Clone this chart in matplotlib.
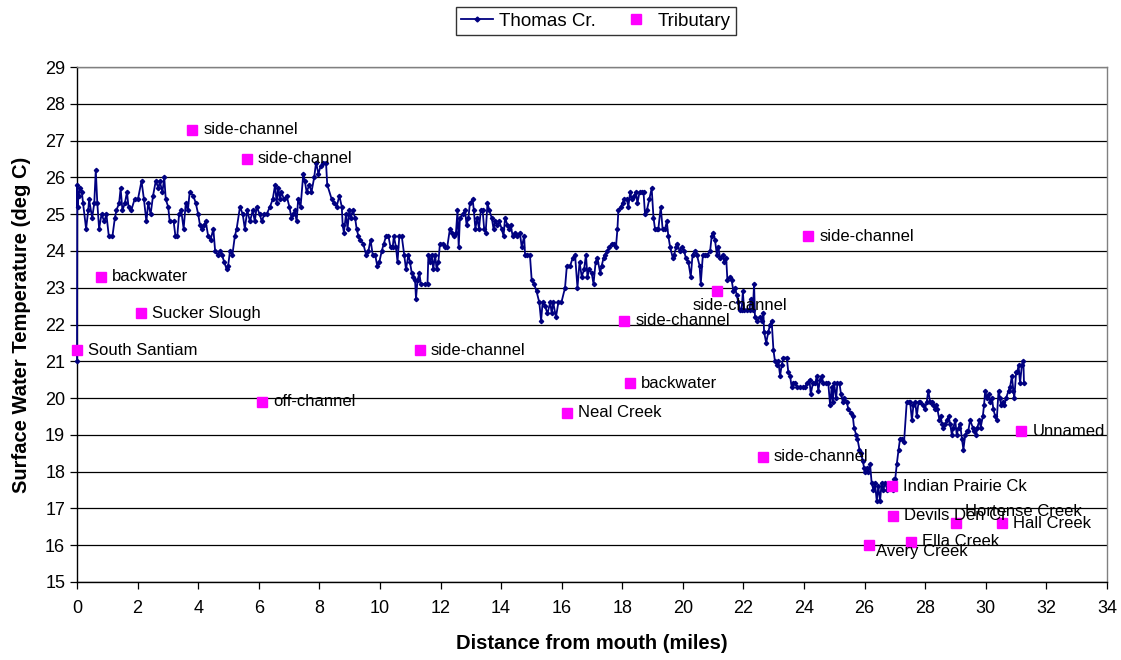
import matplotlib
matplotlib.use("Agg")
import matplotlib.pyplot as plt
from matplotlib.lines import Line2D

plt.rcParams['font.family'] = ['Liberation Sans', 'DejaVu Sans']

# Thomas Cr. longitudinal profile: distance (miles) and temperature (deg C)
thomas_miles = [
    0.00, 0.01, 0.02, 0.05, 0.10, 0.16, 0.20, 0.30, 0.37, 0.40, 0.50, 0.57, 0.62, 0.67, 0.73, 0.81,
    0.90, 0.97, 1.05, 1.17, 1.25, 1.30, 1.39, 1.44, 1.50, 1.58, 1.65, 1.70, 1.79, 1.90, 2.01, 2.13,
    2.21, 2.29, 2.35, 2.43, 2.51, 2.60, 2.69, 2.73, 2.82, 2.88, 2.93, 3.01, 3.06, 3.19, 3.25, 3.31,
    3.37, 3.44, 3.52, 3.59, 3.66, 3.72, 3.84, 3.92, 4.00, 4.06, 4.11, 4.19, 4.25, 4.33, 4.41, 4.50,
    4.56, 4.64, 4.72, 4.78, 4.86, 4.94, 4.99, 5.05, 5.13, 5.21, 5.27, 5.38, 5.47, 5.54, 5.62, 5.71,
    5.80, 5.87, 5.93, 6.03, 6.10, 6.18, 6.26, 6.37, 6.46, 6.54, 6.59, 6.64, 6.70, 6.75, 6.83, 6.92,
    7.01, 7.08, 7.14, 7.19, 7.25, 7.30, 7.38, 7.47, 7.52, 7.58, 7.67, 7.74, 7.83, 7.89, 7.97, 8.04,
    8.13, 8.22, 8.26,
    8.41, 8.48, 8.57, 8.66, 8.74, 8.77, 8.81, 8.88, 8.93, 8.99, 9.04, 9.10, 9.18, 9.23, 9.29, 9.34,
    9.45, 9.54, 9.62, 9.69, 9.76, 9.84, 9.91, 9.98, 10.06, 10.13, 10.20, 10.28, 10.35, 10.42, 10.46,
    10.53, 10.58, 10.64, 10.72, 10.80, 10.86, 10.94, 10.99, 11.05, 11.10, 11.16, 11.19, 11.24, 11.30,
    11.35, 11.49, 11.57, 11.60, 11.65, 11.71, 11.76, 11.82, 11.87, 11.93, 11.98, 12.07, 12.15, 12.22,
    12.31, 12.37, 12.44, 12.51, 12.56, 12.60, 12.64, 12.73, 12.81, 12.86, 12.92, 12.97, 13.06, 13.10,
    13.15, 13.21, 13.27, 13.33, 13.39, 13.44, 13.49, 13.55, 13.61, 13.69, 13.75, 13.80, 13.88, 13.94,
    14.02, 14.08, 14.13, 14.21, 14.27, 14.32, 14.38, 14.46, 14.54, 14.62, 14.68, 14.76, 14.79, 14.87,
    14.95, 15.01, 15.09, 15.17, 15.26, 15.32, 15.37, 15.45, 15.53, 15.62, 15.67, 15.72, 15.81, 15.89,
    15.99, 16.11, 16.17, 16.28, 16.36, 16.44, 16.52, 16.59, 16.66, 16.74, 16.80, 16.85, 16.91, 16.99,
    17.05, 17.12, 17.18, 17.27,
    17.32, 17.38, 17.43, 17.51, 17.57, 17.65, 17.73, 17.79, 17.84, 17.87, 17.95, 18.01, 18.06, 18.15,
    18.20, 18.26, 18.31, 18.39, 18.45, 18.50, 18.57, 18.64, 18.70, 18.75, 18.81, 18.89, 18.97, 19.03,
    19.08, 19.14, 19.19, 19.27, 19.33, 19.41, 19.47, 19.52, 19.58, 19.67, 19.71, 19.78, 19.82, 19.89,
    19.96, 20.04, 20.10, 20.18, 20.26, 20.32, 20.40, 20.46, 20.55, 20.59, 20.66, 20.73, 20.81, 20.90,
    20.95, 21.01, 21.06, 21.12, 21.17, 21.23, 21.32, 21.36, 21.43, 21.47, 21.56, 21.61, 21.67, 21.72,
    21.78, 21.83, 21.89, 21.94, 21.98, 22.02, 22.11, 22.20, 22.24, 22.31, 22.35, 22.38, 22.44, 22.53,
    22.60, 22.66, 22.68, 22.75, 22.82, 22.88, 22.93, 22.99, 23.04, 23.10, 23.15, 23.21, 23.26, 23.32,
    23.43,
    23.48, 23.54, 23.59, 23.65, 23.70, 23.78, 23.87, 23.96, 24.03, 24.09, 24.18, 24.22, 24.29, 24.37,
    24.42, 24.47, 24.53, 24.58, 24.64, 24.73, 24.80, 24.86, 24.91, 24.95, 24.99, 25.06, 25.10, 25.17,
    25.22, 25.28, 25.32, 25.41, 25.46, 25.54, 25.61, 25.65, 25.72, 25.76, 25.83, 25.87, 25.94, 25.98,
    26.01, 26.07, 26.12, 26.18, 26.23, 26.29, 26.34, 26.40, 26.45, 26.51, 26.56, 26.62, 26.67, 26.75,
    26.84, 26.93, 26.97, 27.01, 27.06, 27.12, 27.17, 27.23, 27.30, 27.39, 27.45, 27.50, 27.56, 27.61,
    27.67, 27.72, 27.78, 27.83, 27.92, 27.99, 28.05, 28.10, 28.16, 28.21, 28.27, 28.32, 28.36, 28.40,
    28.47, 28.51, 28.55, 28.60, 28.66, 28.71, 28.77, 28.82, 28.88, 28.93, 28.99, 29.04, 29.10, 29.15,
    29.21, 29.26, 29.32, 29.39, 29.42, 29.48, 29.57, 29.61, 29.68, 29.72, 29.79, 29.83, 29.90, 29.94,
    29.98, 30.03, 30.09, 30.14, 30.20, 30.25, 30.31, 30.36, 30.42, 30.47, 30.50, 30.56, 30.60, 30.67,
    30.75, 30.80, 30.86, 30.91, 30.94, 31.00, 31.04, 31.08, 31.13, 31.19, 31.24, 31.26,
]
thomas_temp = [
    21.0, 25.8, 25.2, 25.5, 25.7, 25.6, 25.3, 24.6, 25.1, 25.4, 24.9, 25.3, 26.2, 25.3, 24.6, 25.0,
    24.8, 25.0, 24.4, 24.4, 24.9, 25.1, 25.3, 25.7, 25.1, 25.3, 25.6, 25.2, 25.1, 25.4, 25.4, 25.9,
    25.4, 24.8, 25.3, 25.0, 25.5, 25.9, 25.7, 25.9, 25.6, 26.0, 25.4, 25.2, 24.8, 24.8, 24.4, 24.4,
    25.0, 25.1, 24.6, 25.3, 25.1, 25.6, 25.5, 25.3, 25.0, 24.7, 24.6, 24.7, 24.8, 24.4, 24.3, 24.6,
    24.0, 23.9, 24.0, 23.9, 23.7, 23.5, 23.6, 24.0, 23.9, 24.4, 24.6, 25.2, 25.0, 24.6, 25.1, 24.8,
    25.1, 24.8, 25.2, 25.0, 24.8, 25.0, 25.0, 25.2, 25.4, 25.8, 25.3, 25.7, 25.4, 25.6, 25.4, 25.5,
    25.2, 24.9, 25.0, 25.1, 24.8, 25.4, 25.2, 26.1, 25.9, 25.6, 25.8, 25.6, 26.0, 26.4, 26.1, 26.3,
    26.4, 26.4, 25.8,
    25.4, 25.3, 25.2, 25.5, 25.2, 24.7, 24.5, 25.0, 24.6, 25.1, 24.9, 25.1, 24.9, 24.6, 24.4, 24.3,
    24.2, 23.9, 24.0, 24.3, 23.9, 23.9, 23.6, 23.7, 24.0, 24.2, 24.4, 24.4, 24.1, 24.1, 24.4,
    24.1, 23.7, 24.4, 24.4, 23.9, 23.5, 23.9, 23.7, 23.4, 23.3, 23.2, 22.7, 23.2, 23.4,
    23.1, 23.1, 23.1, 23.9, 23.7, 23.9, 23.5, 23.9, 23.5, 23.7, 24.2, 24.2, 24.1, 24.1,
    24.6, 24.5, 24.4, 24.5, 25.1, 24.1, 24.9, 25.0, 25.1, 24.7, 24.9, 25.3, 25.4, 25.1,
    24.6, 24.9, 24.6, 25.1, 25.1, 24.6, 24.5, 25.3, 25.1, 24.9, 24.6, 24.8, 24.7, 24.8,
    24.6, 24.4, 24.9, 24.7, 24.6, 24.7, 24.4, 24.5, 24.4, 24.5, 24.1, 24.4, 23.9, 23.9,
    23.9, 23.2, 23.1, 22.9, 22.6, 22.1, 22.6, 22.5, 22.3, 22.6, 22.3, 22.6, 22.2, 22.6,
    22.6, 23.0, 23.6, 23.6, 23.8, 23.9, 23.0, 23.7, 23.3, 23.5, 23.9, 23.3, 23.5, 23.4,
    23.1, 23.7, 23.8, 23.4,
    23.6, 23.8, 23.9, 24.0, 24.1, 24.2, 24.2, 24.1, 24.6, 25.1, 25.2, 25.3, 25.4, 25.4,
    25.2, 25.6, 25.4, 25.5, 25.6, 25.3, 25.6, 25.6, 25.6, 25.0, 25.1, 25.4, 25.7, 24.9,
    24.6, 24.6, 24.6, 25.2, 24.6, 24.6, 24.8, 24.4, 24.1, 23.8, 23.9, 24.1, 24.2, 24.0,
    24.1, 24.0, 23.8, 23.7, 23.3, 23.9, 24.0, 23.9, 23.6, 23.1, 23.9, 23.9, 23.9, 24.0,
    24.4, 24.5, 24.3, 23.9, 24.1, 23.8, 23.9, 23.7, 23.8, 23.2, 23.3, 23.2, 22.9, 23.0,
    22.8, 22.6, 22.4, 22.4, 22.9, 22.4, 22.4, 22.4, 22.7, 22.4, 23.1, 22.2, 22.1, 22.2,
    22.1, 22.3, 21.8, 21.5, 21.8, 22.0, 22.1, 21.3, 21.0, 20.9, 21.0, 20.6, 20.9, 21.1,
    21.1,
    20.7, 20.6, 20.3, 20.4, 20.4, 20.3, 20.3, 20.3, 20.3, 20.4, 20.5, 20.1, 20.4, 20.4,
    20.6, 20.2, 20.5, 20.6, 20.4, 20.4, 20.4, 19.8, 20.3, 19.9, 20.4, 20.0, 20.4, 20.4,
    20.1, 19.9, 20.0, 19.9, 19.7, 19.6, 19.5, 19.2, 19.0, 18.9, 18.6, 18.5, 18.3, 18.1,
    18.0, 18.1, 18.0, 18.2, 17.7, 17.5, 17.7, 17.2, 17.6, 17.2, 17.7, 17.5, 17.7, 17.5,
    17.6, 17.5, 17.8, 17.8, 18.2, 18.6, 18.9, 18.9, 18.8, 19.9, 19.9, 19.9, 19.4, 19.8,
    19.9, 19.5, 19.9, 19.9, 19.8, 19.7, 19.9, 20.2, 19.9, 19.9, 19.8, 19.7, 19.8, 19.7,
    19.4, 19.5, 19.3, 19.2, 19.3, 19.4, 19.5, 19.3, 19.0, 19.2, 19.4, 19.0, 19.2, 19.3,
    18.9, 18.6, 19.0, 19.1, 19.1, 19.4, 19.2, 19.1, 19.0, 19.2, 19.4, 19.2, 19.5, 19.8,
    20.2, 20.0, 20.1, 19.9, 20.0, 19.7, 19.5, 19.4, 20.2, 20.0, 19.8, 19.9, 19.8, 20.0,
    20.2, 20.3, 20.6, 20.2, 20.0, 20.7, 20.7, 20.9, 20.4, 20.9, 21.0, 20.4,
]

# Tributaries
trib_names = [
    "South Santiam", "backwater", "Sucker Slough", "side-channel", "side-channel", "off-channel",
    "side-channel", "Neal Creek", "side-channel", "backwater", "side-channel", "side-channel",
    "side-channel", "Indian Prairie Ck", "Devils Den Cr", "Hortense Creek", "Hall Creek",
    "Ella Creek", "Avery Creek", "Unnamed",
]
trib_miles = [0.0, 0.79, 2.11, 3.80, 5.61, 6.10, 11.32, 16.17, 18.07, 18.26, 21.14, 22.64,
              24.14, 26.90, 26.93, 29.01, 30.52, 27.54, 26.15, 31.17]
trib_temp = [21.3, 23.3, 22.3, 27.3, 26.5, 19.9, 21.3, 19.6, 22.1, 20.4, 22.9, 18.4,
             24.4, 17.6, 16.8, 16.6, 16.6, 16.1, 16.0, 19.1]

xticks = list(range(0, 35, 2))
yticks = list(range(15, 30))

NAVY = "#000080"
MAGENTA = "#FF00FF"

fig = plt.figure(figsize=(11.21, 6.60), dpi=100)
ax = fig.add_axes([77 / 1121, 1 - 582 / 660, (1107 - 77) / 1121, (582 - 67) / 660])

ax.set_xlim(0, 34)
ax.set_ylim(15, 29)
ax.set_xticks(xticks)
ax.set_yticks(yticks)
ax.yaxis.grid(True, color="black", linewidth=0.9)
ax.set_axisbelow(True)

ax.plot(thomas_miles, thomas_temp, color=NAVY, linewidth=1.3, marker="D", markersize=2.2,
        markerfacecolor=NAVY, markeredgecolor=NAVY, zorder=3, clip_on=False)
ax.plot(trib_miles, trib_temp, linestyle="none", marker="s", markersize=6.5,
        color=MAGENTA, zorder=4, clip_on=False)

# label offsets (points) relative to the square; default right-of-marker
offsets = {i: (8.0, 0.0, "left") for i in range(len(trib_names))}
offsets[10] = (16.0, -10.0, "center")   # side-channel below-right
offsets[15] = (6.5, 8.5, "left")        # Hortense Creek raised
offsets[18] = (5.0, -4.5, "left")       # Avery Creek lowered
for i, (nm, mx, ty) in enumerate(zip(trib_names, trib_miles, trib_temp)):
    dx, dy, ha = offsets[i]
    ax.annotate(nm, (mx, ty), xytext=(dx, dy), textcoords="offset points",
                ha=ha, va="center", fontsize=12, color="black", zorder=5,
                annotation_clip=False)

for s in ["left", "bottom"]:
    ax.spines[s].set_color("black")
    ax.spines[s].set_linewidth(1.0)
for s in ["top", "right"]:
    ax.spines[s].set_color("#808080")
    ax.spines[s].set_linewidth(1.0)

ax.tick_params(axis="both", direction="out", length=5, width=0.9, labelsize=13, colors="black")
ax.tick_params(axis="x", pad=8)
ax.set_xlabel("Distance from mouth (miles)", fontsize=14.5, fontweight="bold", labelpad=12)
ax.set_ylabel("Surface Water Temperature (deg C)", fontsize=14.5, fontweight="bold", labelpad=10)

handles = [
    Line2D([], [], color=NAVY, linewidth=1.3, marker="D", markersize=2.5),
    Line2D([], [], color=MAGENTA, linestyle="none", marker="s", markersize=6.5),
]
leg = fig.legend(handles, ["Thomas Cr.", "Tributary"], loc="upper center",
                 bbox_to_anchor=(596 / 1121, 1 - 7 / 660), ncol=2, fontsize=13.5,
                 frameon=True, fancybox=False, edgecolor="black", borderpad=0.3,
                 handlelength=1.7, handletextpad=0.3, columnspacing=1.3, borderaxespad=0)
leg.get_frame().set_linewidth(1.0)

fig.savefig("out.png", dpi=100)
